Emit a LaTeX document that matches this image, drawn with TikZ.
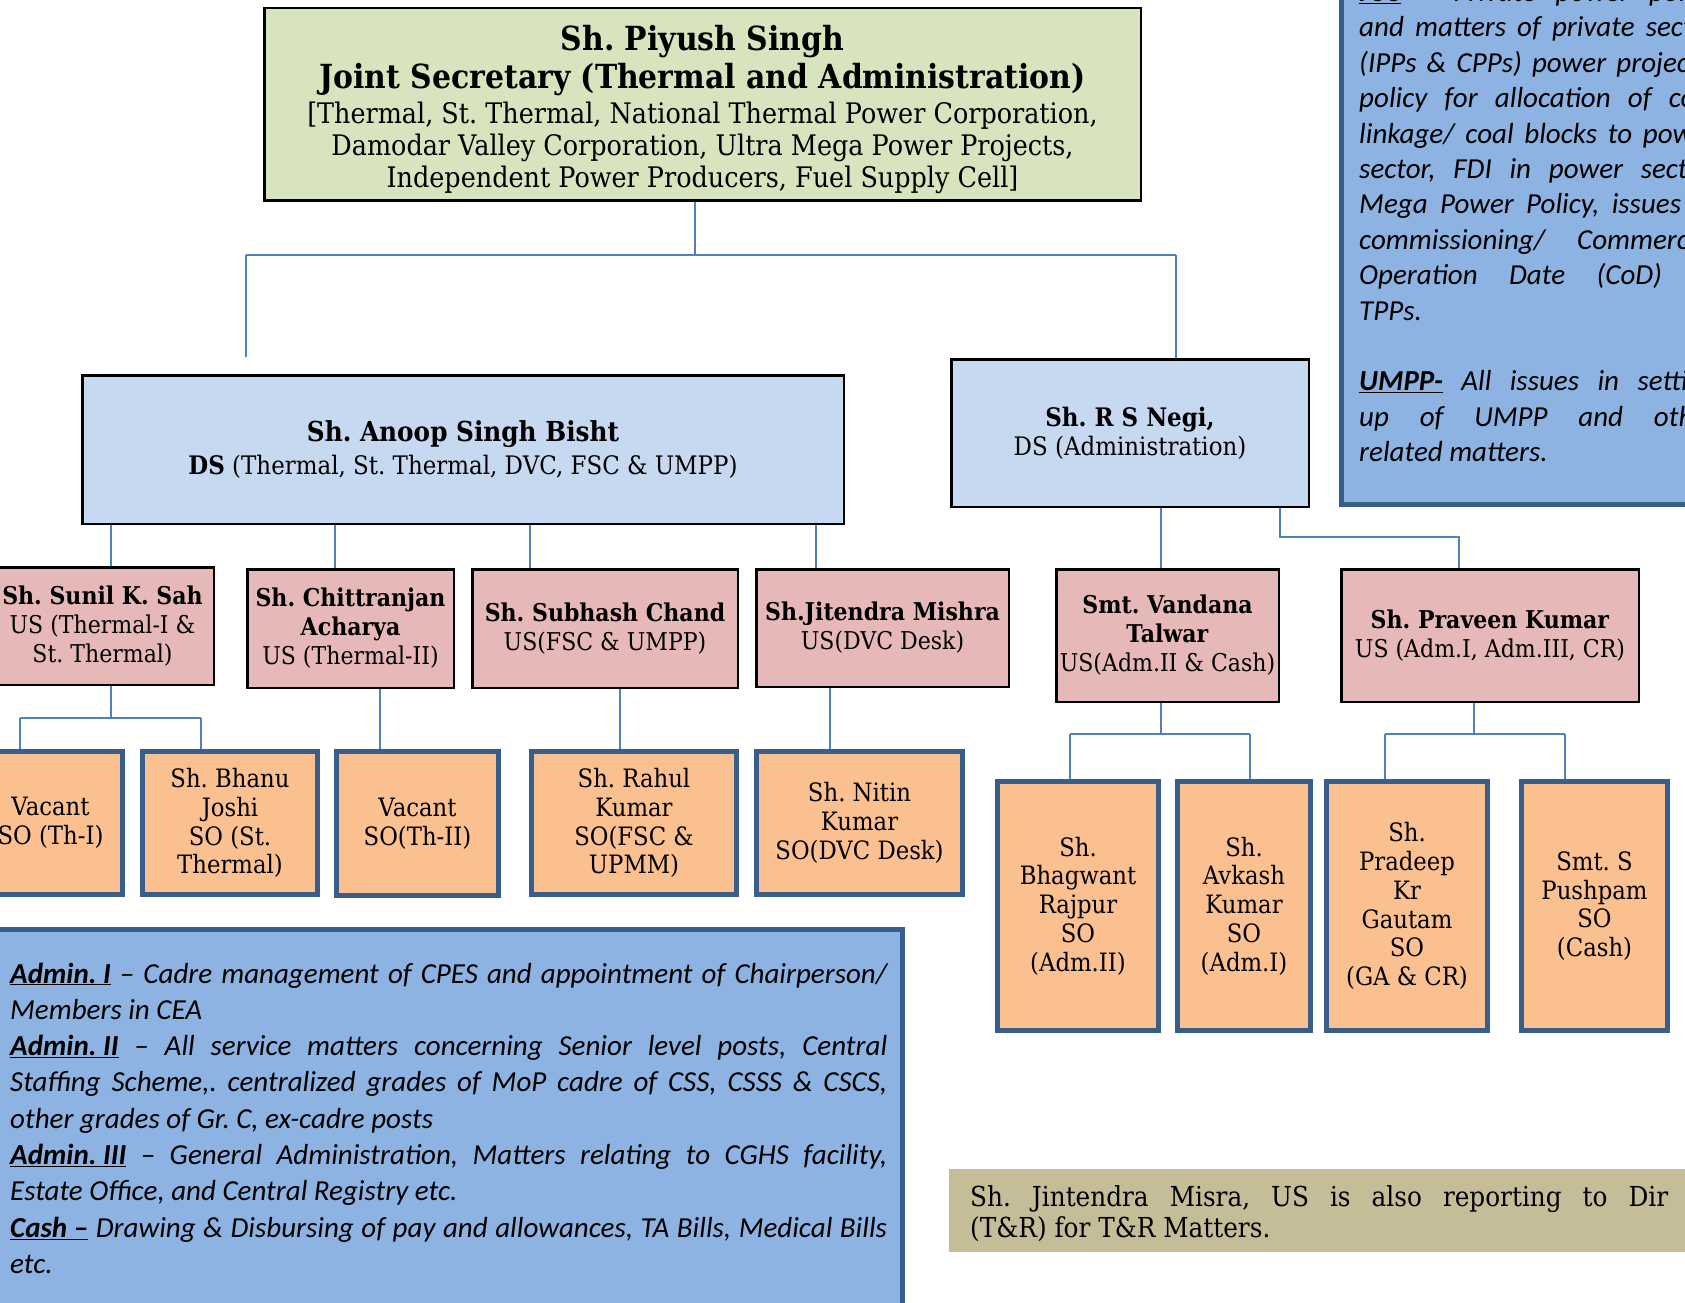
\documentclass[tikz,border=0pt]{standalone}
\usepackage{fontspec}
\setmainfont{DejaVu Serif}[FakeStretch=0.9]
\newfontfamily\calib{Carlito}
\usetikzlibrary{calc}
\definecolor{jsgreen}{HTML}{D7E4BD}
\definecolor{dsblue}{HTML}{C6D9F1}
\definecolor{uspink}{HTML}{E6B9B8}
\definecolor{soorange}{HTML}{FAC090}
\definecolor{sodark}{HTML}{3A5E8C}
\definecolor{infoblue}{HTML}{8DB3E2}
\definecolor{tanbg}{HTML}{C4BD97}
\definecolor{connblue}{HTML}{4F81BD}
\newcommand\nsp{\spaceskip=0pt\relax\xspaceskip=0pt\relax}
\newcommand\ctr{\leftskip=0pt plus 1fil\relax\rightskip=0pt plus 1fil\relax\parfillskip=0pt\relax}
\newcommand\jsnamefont{\fontsize{33.2}{37.6}\selectfont\bfseries}
\newcommand\jsdescfont{\fontsize{28.3}{32}\selectfont\mdseries}
\newcommand\infofont{\calib\itshape\fontsize{29}{36.3}\selectfont}
\newcommand\fsctextfont{\calib\itshape\fontsize{29}{35.4}\selectfont}
\begin{document}
\frenchspacing
\begin{tikzpicture}[x=1pt,y=-1pt,
  box/.style={inner sep=0pt, align=center, anchor=center},
  jsbox/.style={box, fill=jsgreen, draw=black, line width=2.5pt},
  dsbox/.style={box, fill=dsblue, draw=black, line width=2.5pt, font=\fontsize{27.5}{33}\selectfont},
  usbox/.style={box, fill=uspink, draw=black, line width=2.5pt, font=\fontsize{24.5}{29}\selectfont},
  sobox/.style={box, fill=soorange, draw=sodark, line width=5pt, font=\fontsize{25.3}{28.7}\selectfont},
  infobox/.style={fill=infoblue, draw=sodark, line width=5pt},
  conn/.style={draw=connblue, line width=2pt}]
\useasboundingbox (0,0) rectangle (1685,1302);
\clip (0,0) rectangle (1685,1302);

% info boxes
\draw[infobox] (1341.5,-17.5) rectangle (1717.5,504.5);
\draw[infobox] (-17.5,929.5) rectangle (902.5,1317.5);
\fill[tanbg] (949,1169) rectangle (1700,1252);

% top
\node[jsbox, minimum width=876.5, minimum height=192.5, text width=860] (js) at (702.5,104)
 {\nsp\ctr\jsnamefont\rule{0pt}{36pt}Sh. Piyush Singh\\Joint Secretary (Thermal and Administration)\par\vspace{3pt}\jsdescfont [Thermal, St. Thermal, National Thermal Power Corporation,\\Damodar Valley Corporation, Ultra Mega Power Projects,\\Independent Power Producers, Fuel Supply Cell]\par};

% DS level
\node[dsbox, minimum width=761.5, minimum height=148.5] (ds) at (463,449.5)
 {\textbf{Sh. Anoop Singh Bisht}\\{\fontsize{25.5}{33}\selectfont\textbf{DS} (Thermal, St. Thermal, DVC, FSC \& UMPP)}};
\node[dsbox, minimum width=357.5, minimum height=147.5, font=\fontsize{25.5}{29}\selectfont] (negi) at (1130,433)
 {\textbf{Sh. R S Negi,}\\DS (Administration)};

% US level
\node[usbox, minimum width=222.5, minimum height=117.5] (sah) at (102.5,626)
 {\textbf{Sh. Sunil K. Sah}\\US (Thermal-I \&\\St. Thermal)};
\node[usbox, minimum width=206.5, minimum height=118.5] (chit) at (350.5,628.5)
 {\textbf{Sh. Chittranjan}\\\textbf{Acharya}\\US (Thermal-II)};
\node[usbox, minimum width=265.5, minimum height=118.5] (subh) at (605,628.5)
 {\textbf{Sh. Subhash Chand}\\US(FSC \& UMPP)};
\node[usbox, minimum width=252.5, minimum height=117.5] (jit) at (882.5,628)
 {\textbf{Sh.Jitendra Mishra}\\US(DVC Desk)};
\node[usbox, minimum width=222.5, minimum height=132.5] (vand) at (1167.5,635.5)
 {\textbf{Smt. Vandana}\\\textbf{Talwar}\\US(Adm.II \& Cash)};
\node[usbox, minimum width=297.5, minimum height=132.5] (prav) at (1490,635.5)
 {\textbf{Sh. Praveen Kumar}\\US (Adm.I, Adm.III, CR)};

% SO level
\node[sobox, minimum width=144, minimum height=143] (vac1) at (50.5,823) {Vacant\\SO (Th-I)};
\node[sobox, minimum width=175, minimum height=143] (bhanu) at (230,823) {Sh. Bhanu\\Joshi\\SO (St.\\Thermal)};
\node[sobox, minimum width=162, minimum height=144] (vac2) at (417.5,823.5) {Vacant\\SO(Th-II)};
\node[sobox, minimum width=205, minimum height=143] (rahul) at (634,823) {Sh. Rahul\\Kumar\\SO(FSC \&\\UPMM)};
\node[sobox, minimum width=206, minimum height=143] (nitin) at (859.5,823) {Sh. Nitin\\Kumar\\SO(DVC Desk)};
\node[sobox, minimum width=161, minimum height=249] (bhag) at (1078,906) {Sh.\\Bhagwant\\Rajpur\\SO\\(Adm.II)};
\node[sobox, minimum width=133, minimum height=249] (avk) at (1244,906) {Sh.\\Avkash\\Kumar\\SO\\(Adm.I)};
\node[sobox, minimum width=161, minimum height=249] (prad) at (1407,906) {Sh.\\Pradeep\\Kr\\Gautam\\SO\\(GA \& CR)};
\node[sobox, minimum width=146, minimum height=249] (push) at (1594.5,906) {Smt. S\\Pushpam\\SO\\(Cash)};

% connectors: top
\coordinate (jtop) at (695,255);
\coordinate (jl) at (246,255);
\coordinate (jr) at (1176,255);
\coordinate (jlend) at (246,357);
\draw[conn] (js.south -| jtop) -- (jtop);
\draw[conn] (jl) -- (jr);
\draw[conn] (jl) -- (jlend);
\draw[conn] (jr) -- (negi.north -| jr);

% DS to US
\coordinate (xa) at (111,0);
\coordinate (xb) at (335,0);
\coordinate (xc) at (530,0);
\coordinate (xd) at (816,0);
\draw[conn] (ds.south -| xa) -- (sah.north -| xa);
\draw[conn] (ds.south -| xb) -- (chit.north -| xb);
\draw[conn] (ds.south -| xc) -- (subh.north -| xc);
\draw[conn] (ds.south -| xd) -- (jit.north -| xd);

% Negi to US
\coordinate (xn1) at (1161,0);
\coordinate (nk1) at (1280,537);
\coordinate (nk2) at (1459,537);
\draw[conn] (negi.south -| xn1) -- (vand.north -| xn1);
\draw[conn] (negi.south -| nk1) -- (nk1) -- (nk2) -- (prav.north -| nk2);

% US to SO
\coordinate (sahj) at (111,718);
\coordinate (sahl) at (20,718);
\coordinate (sahr) at (201,718);
\draw[conn] (sah.south -| sahj) -- (sahj);
\draw[conn] (sahl) -- (sahr);
\draw[conn] (sahl) -- (vac1.north -| sahl);
\draw[conn] (sahr) -- (bhanu.north -| sahr);
\coordinate (xe) at (380,0);
\coordinate (xf) at (620,0);
\coordinate (xg) at (830,0);
\draw[conn] (chit.south -| xe) -- (vac2.north -| xe);
\draw[conn] (subh.south -| xf) -- (rahul.north -| xf);
\draw[conn] (jit.south -| xg) -- (nitin.north -| xg);

\coordinate (vj) at (1161,734);
\coordinate (vl) at (1070,734);
\coordinate (vr) at (1250,734);
\draw[conn] (vand.south -| vj) -- (vj);
\draw[conn] (vl) -- (vr);
\draw[conn] (vl) -- (bhag.north -| vl);
\draw[conn] (vr) -- (avk.north -| vr);
\coordinate (pj) at (1474,734);
\coordinate (pl) at (1385,734);
\coordinate (pr) at (1565,734);
\draw[conn] (prav.south -| pj) -- (pj);
\draw[conn] (pl) -- (pr);
\draw[conn] (pl) -- (prad.north -| pl);
\draw[conn] (pr) -- (push.north -| pr);

% FSC text
\node[anchor=base west, text width=358, inner sep=0pt, align=left, font=\fsctextfont] (fsctxt) at (1359,1.5) {\nsp
\makebox[\linewidth][s]{\underline{\textbf{FSC}} – Private power policy}\\
\makebox[\linewidth][s]{and matters of private sector}\\
\makebox[\linewidth][s]{(IPPs \& CPPs) power projects,}\\
\makebox[\linewidth][s]{policy for allocation of coal}\\
\makebox[\linewidth][s]{linkage/ coal blocks to power}\\
\makebox[\linewidth][s]{sector, FDI in power sector,}\\
\makebox[\linewidth][s]{Mega Power Policy, issues of}\\
\makebox[\linewidth][s]{commissioning/ Commercial}\\
\makebox[\linewidth][s]{Operation Date (CoD) of}\\
TPPs.\\[35.4pt]
\makebox[\linewidth][s]{\underline{\textbf{UMPP-}} All issues in setting}\\
\makebox[\linewidth][s]{up of UMPP and other}\\
related matters.};

% Admin text
\node[anchor=base west, text width=877, inner sep=0pt, align=left, font=\infofont] (admtxt) at (10,983) {\nsp
\makebox[\linewidth][s]{\underline{\textbf{Admin. I}} – Cadre management of CPES and appointment of Chairperson/}\\
Members in CEA\\
\makebox[\linewidth][s]{\underline{\textbf{Admin. II}} – All service matters concerning Senior level posts, Central}\\
\makebox[\linewidth][s]{Staffing Scheme,. centralized grades of MoP cadre of CSS, CSSS \& CSCS,}\\
other grades of Gr. C, ex-cadre posts\\
\makebox[\linewidth][s]{\underline{\textbf{Admin. III}} – General Administration, Matters relating to CGHS facility,}\\
Estate Office, and Central Registry etc.\\
\makebox[\linewidth][s]{\underline{\textbf{Cash –}} Drawing \& Disbursing of pay and allowances, TA Bills, Medical Bills}\\
etc.};

% Tan text
\node[anchor=west, text width=698, inner sep=0pt, align=left, font=\fontsize{27.5}{31}\selectfont] (tantxt) at (970,1213.5) {\nsp
\makebox[\linewidth][s]{Sh. Jintendra Misra, US is also reporting to Dir}\\
(T\&R) for T\&R Matters.};
\end{tikzpicture}
\end{document}
